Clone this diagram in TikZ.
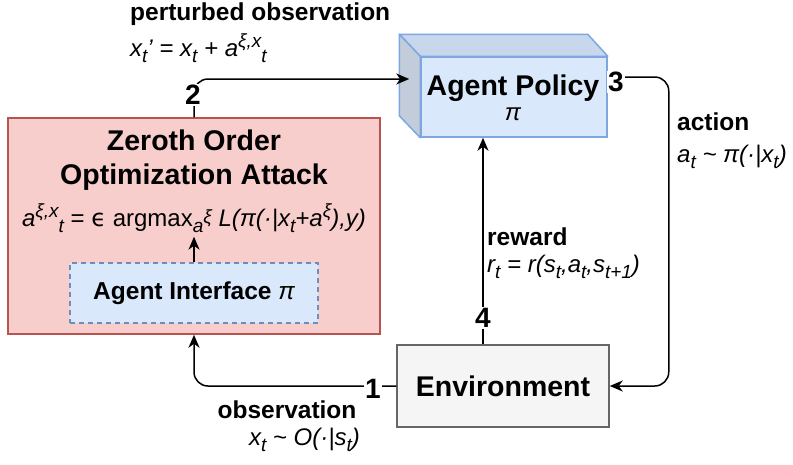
\documentclass[tikz,border=0pt]{standalone}
\usepackage{fontspec}
\setmainfont{Liberation Sans}
\newfontfamily\dejavu{DejaVu Sans}
\usetikzlibrary{arrows.meta,positioning}
\definecolor{atkfill}{HTML}{F8CECC}
\definecolor{atkline}{HTML}{B85450}
\definecolor{blufill}{HTML}{DAE8FC}
\definecolor{bluline}{HTML}{6C8EBF}
\definecolor{polline}{HTML}{7EA6E0}
\definecolor{poltop}{HTML}{C9D7ED}
\definecolor{polside}{HTML}{C2CCDB}
\definecolor{envfill}{HTML}{F5F5F5}
\definecolor{envline}{HTML}{666666}
\newcommand\subt[1]{\raisebox{-6pt}{\fontsize{19}{19}\selectfont #1}}
\newcommand\supt[1]{\raisebox{9pt}{\fontsize{19}{19}\selectfont #1}}
\tikzset{
  box/.style={draw, line width=1.5pt, inner sep=0pt},
  head/.style={font=\fontsize{28.5}{34}\selectfont\bfseries, align=center, inner sep=0pt},
  lbl/.style={font=\fontsize{24.5}{28}\selectfont\bfseries, inner sep=0pt},
  frm/.style={font=\fontsize{24}{28}\selectfont\itshape, inner sep=0pt},
  num/.style={font=\fontsize{28}{30}\selectfont\bfseries, fill=white, inner sep=1pt},
  link/.style={-{Stealth[length=13pt,width=11pt,inset=4pt]}, line width=1.5pt, rounded corners=14pt},
}
\begin{document}
\begin{tikzpicture}[x=1pt, y=-1pt]
\useasboundingbox (0,0) rectangle (793,464);
% boxes
\node[box, draw=atkline, fill=atkfill, minimum width=372pt, minimum height=216pt] (attack) at (194,226) {};
\node[head] (zotitle) at (194,160) {Zeroth Order\\Optimization Attack};
\node[frm] (zoform) at (194,218) {a\supt{ξ,x}\subt{t} \textup{= {\dejavu ϵ} argmax}\subt{a\supt{ξ}} L(π(·|x\subt{t}+a\supt{ξ}),y)};
\node[box, draw=bluline, fill=blufill, dash pattern=on 5pt off 4pt, minimum width=248pt, minimum height=60pt, font=\fontsize{24.5}{28}\selectfont\bfseries] (iface) at (194,293) {Agent Interface {\mdseries\itshape π}};
\node[box, draw=polline, fill=blufill, minimum width=186pt, minimum height=80pt] (policy) at (514,97) {};
\node[font=\fontsize{28.5}{30}\selectfont\bfseries, inner sep=0pt] (poltxt) at (513,88) {Agent Policy};
\node[font=\fontsize{24}{26}\selectfont\itshape, inner sep=0pt] (polpi) at (513,114) {π};
\filldraw[draw=polline, fill=poltop, line width=1.5pt, line join=round]
  (policy.north west) -- ++(-21,-22) -- ([shift={(-20,-22)}]policy.north east) -- (policy.north east) -- cycle;
\filldraw[draw=polline, fill=polside, line width=1.5pt, line join=round]
  (policy.north west) -- ++(-21,-22) -- ([shift={(-21,-22)}]policy.south west) -- (policy.south west) -- cycle;
\node[box, draw=envline, fill=envfill, minimum width=212pt, minimum height=82pt, font=\fontsize{28.5}{30}\selectfont\bfseries] (env) at (503,386) {Environment};
% connectors
\draw[link] (env.west) -| (attack.south);
\draw[link] (attack.north) |- ([shift={(-11,-18)}]policy.west);
\draw[link] ([shift={(0,-20)}]policy.east) -- ++(61,0) |- (env.east);
\draw[link] ([xshift=-20pt]env.north) -- ([xshift=-31pt]policy.south);
\draw[link] (iface.north) -- ([yshift=-4pt]zoform.south);
\foreach \n/\x/\y in {1/373/389, 2/193/95, 3/616/82, 4/483/318}
  \node[num] (n\n) at (\x,\y) {\n};
% labels
\node[lbl, anchor=west] (pert) at (130,14) {perturbed observation};
\node[frm, anchor=west] (pertf) at (130,48) {x\subt{t}' = x\subt{t} + a\supt{ξ,x}\subt{t}};
\node[lbl, anchor=west] (act) at (677,122) {action};
\node[frm, anchor=west] (actf) at (677,157) {a\subt{t} \textasciitilde{} π(·|x\subt{t})};
\node[lbl, anchor=west] (rew) at (487,237) {reward};
\node[frm, anchor=west] (rewf) at (487,267) {r\subt{t} = r(s\subt{t},a\subt{t},s\subt{t+1})};
\node[lbl] (obs) at (287,410) {observation};
\node[frm, anchor=east] (obsf) at (360,440) {x\subt{t} \textasciitilde{} O(·|s\subt{t})};
\end{tikzpicture}
\end{document}
